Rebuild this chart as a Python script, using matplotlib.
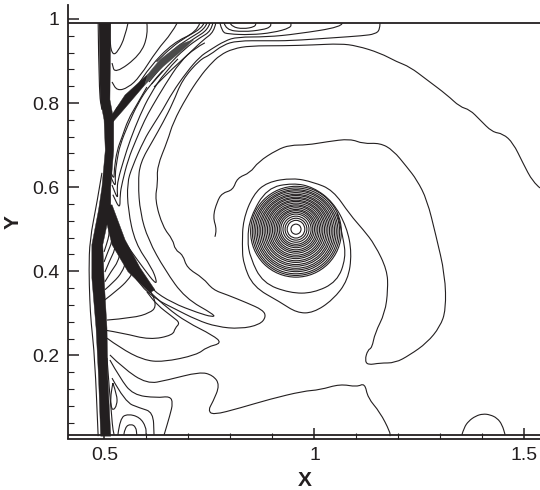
#contour lines of a shock/vortex field
import numpy as np
import matplotlib
matplotlib.use("Agg")
import matplotlib.pyplot as plt
import matplotlib.ticker as tick
from matplotlib.patches import Circle, PathPatch
from matplotlib.path import Path

plt.rcParams['font.family'] = ['Liberation Sans', 'DejaVu Sans']

INK = '#231f20'

#outer contours running from the top wall round to the shock bundle
line_a = [(1.537,.598),(1.520,.612),(1.496,.658),(1.473,.705),(1.449,.727),(1.423,.731),(1.394,.760),(1.370,.784),(1.346,.791),(1.316,.819),(1.268,.855),(1.227,.886),(1.196,.898),(1.156,.919),(1.101,.936),(1.061,.941),(.997,.938),(.925,.936),(.847,.936),(.806,.929),(.775,.914),(.751,.891),(.727,.862),(.696,.815),(.663,.753),(.651,.712),(.625,.648),(.627,.610),(.620,.570),(.639,.505),(.663,.475),(.668,.451),(.687,.439),(.696,.408),(.735,.384),(.758,.356),(.792,.344),(.839,.325),(.877,.308),(.885,.292),(.870,.273),(.823,.263),(.768,.268),(.720,.284),(.663,.313),(.625,.332),(.584,.367),(.556,.415)]
line_c2 = [(1.156,.990),(1.156,.974),(1.144,.964),(1.116,.960),(1.044,.955),(.942,.948),(.887,.948),(.816,.948),(.782,.938),(.751,.914),(.727,.903),(.685,.855),(.663,.800),(.639,.753),(.616,.712),(.585,.658),(.580,.610),(.585,.539),(.604,.475),(.644,.403),(.692,.336),(.763,.296),(.758,.291),(.723,.301),(.661,.325),(.613,.356),(.573,.403),(.549,.439)]
line_c3 = [(1.066,.990),(1.066,.981),(.958,.964),(.887,.957),(.816,.957),(.787,.948),(.751,.926),(.727,.910),(.696,.874),(.661,.824),(.639,.784),(.616,.748),(.594,.712),(.566,.648),(.554,.610),(.556,.546),(.573,.467),(.613,.408),(.625,.375),(.620,.372),(.596,.403),(.561,.451),(.542,.479)]

#bubbles on the top wall
bubble_1 = [(.799,.990),(.804,.981),(.830,.976),(.858,.981),(.861,.990)]
bubble_2 = [(.785,.990),(.789,.974),(.830,.969),(.877,.974),(.896,.981),(.896,.990)]
bubble_3 = [(.775,.990),(.780,.969),(.794,.964),(.847,.962),(.901,.967),(.944,.979),(.944,.990)]

#nested tips under the diagonal shock
nest_1 = [(.739,.943),(.716,.931),(.680,.898),(.644,.843),(.613,.791),(.596,.760),(.575,.712),(.556,.665),(.542,.610),(.537,.582),(.537,.546),(.520,.582)]
nest_2 = [(.675,.905),(.644,.874),(.608,.819),(.585,.772),(.561,.712),(.546,.665),(.532,.617),(.530,.593),(.532,.570),(.518,.605)]
nest_3 = [(.639,.877),(.608,.843),(.580,.800),(.556,.748),(.537,.700),(.530,.665),(.525,.629),(.527,.598),(.513,.629)]
nest_4 = [(.601,.838),(.577,.796),(.556,.760),(.542,.719),(.530,.688),(.523,.641),(.523,.617),(.513,.641)]

#top left corner between the shocks
upper_1 = [(.556,.990),(.549,.957),(.532,.922),(.520,.914),(.513,.938),(.513,.990)]
upper_2 = [(.601,.990),(.604,.962),(.585,.914),(.525,.869),(.518,.895)]
upper_3 = [(.673,.990),(.661,.967),(.625,.926),(.584,.862),(.556,.836),(.530,.829),(.518,.850)]
upper_4 = [(.727,.990),(.720,.969),(.663,.943),(.608,.886),(.577,.838),(.553,.808),(.530,.791),(.525,.777)]
top_fan_1 = [(.744,.990),(.739,.976),(.704,.955),(.668,.931),(.632,.895),(.600,.858)]
top_fan_2 = [(.751,.990),(.746,.974),(.716,.955),(.680,.931),(.642,.893),(.606,.850)]
top_fan_3 = [(.758,.990),(.754,.971),(.727,.955),(.692,.930),(.650,.888),(.612,.845)]
top_fan_4 = [(.765,.990),(.761,.969),(.735,.950),(.704,.920),(.660,.880),(.618,.838)]
top_fan_5 = [(.737,.990),(.732,.978),(.696,.958),(.660,.933),(.624,.898)]

#thin lines left of the vertical shock
outer_1 = [(.485,.990),(.487,.824),(.494,.784)]
outer_2 = [(.494,.634),(.482,.562),(.465,.475),(.463,.403),(.465,.332),(.468,.279),(.477,.194),(.485,.008)]
outer_3 = [(.506,.194),(.518,.035),(.523,.011)]

#lower region
low_a = [(.506,.284),(.568,.289),(.608,.301),(.623,.315),(.616,.344),(.592,.379)]
low_b = [(.501,.260),(.544,.253),(.608,.237),(.663,.248),(.668,.265),(.680,.277),(.663,.291),(.625,.320),(.601,.351)]
low_c = [(.506,.241),(.537,.218),(.592,.189),(.639,.184),(.720,.201),(.744,.220),(.780,.229),(.758,.248),(.696,.279),(.649,.313),(.608,.351)]
low_d = [(.513,.201),(.544,.170),(.601,.132),(.649,.141),(.727,.161),(.758,.153),(.775,.130),(.758,.089),(.747,.070),(.758,.058),(.823,.075),(.894,.096),(.973,.115),(1.013,.118),(1.061,.132),(1.101,.125),(1.120,.134),(1.127,.099),(1.156,.065),(1.180,.018),(1.180,.008)]
low_e = [(.513,.189),(.537,.146),(.568,.106),(.625,.099),(.656,.103),(.663,.087),(.656,.058),(.642,.011)]
low_f = [(.518,.146),(.549,.089),(.584,.075),(.616,.065),(.618,.011)]
low_g = [(.532,.011),(.537,.051),(.556,.061),(.584,.053),(.599,.030),(.599,.011)]
low_h = [(.546,.011),(.549,.030),(.563,.037),(.575,.030),(.577,.011)]
low_loop = [(.520,.134),(.530,.106),(.530,.082),(.520,.068),(.515,.082),(.515,.106),(.520,.134)]

#fan in the triangle between the two lower shocks
fan_1 = [(.501,.332),(.532,.356),(.556,.379),(.568,.398),(.556,.432)]
fan_2 = [(.501,.356),(.523,.375),(.542,.398),(.551,.422),(.542,.451)]
fan_3 = [(.501,.375),(.518,.403),(.532,.422),(.539,.451),(.530,.475)]
fan_4 = [(.501,.398),(.513,.427),(.525,.451),(.527,.475),(.518,.498)]
fan_5 = [(.499,.422),(.508,.446),(.518,.470),(.518,.494),(.513,.517)]
fan_6 = [(.499,.446),(.506,.467),(.511,.486),(.511,.503)]

#big spiral round the vortex
spiral = [(.763,.482),(.768,.498),(.758,.529),(.768,.565),(.780,.586),(.806,.593),(.816,.622),(.847,.634),(.866,.660),(.911,.689),(.942,.700),(.982,.700),(1.030,.708),(1.085,.715),(1.116,.703),(1.156,.705),(1.187,.688),(1.220,.648),(1.244,.617),(1.268,.570),(1.289,.486),(1.311,.391),(1.313,.308),(1.299,.268),(1.268,.230),(1.227,.201),(1.192,.182),(1.156,.182),(1.127,.177),(1.120,.189),(1.127,.213),(1.137,.218),(1.144,.253),(1.168,.301),(1.175,.356),(1.173,.403),(1.144,.463),(1.116,.499),(1.085,.534),(1.044,.593),(.997,.612),(.949,.622),(.887,.612),(.854,.582),(.830,.522),(.828,.463),(.830,.420),(.854,.363),(.918,.327),(.958,.301),(.997,.301),(1.044,.332),(1.080,.379),(1.089,.443),(1.077,.505),(1.044,.565),(.997,.600),(.949,.610),(.887,.598),(.847,.529),(.840,.475),(.847,.432),(.877,.372),(.942,.348),(.997,.348),(1.054,.375),(1.075,.432),(1.068,.481),(1.054,.539)]

bump = [(1.351,.011),(1.356,.028),(1.367,.044),(1.384,.056),(1.401,.061),(1.418,.059),(1.435,.051),(1.447,.035),(1.454,.011)]

#shock bundles, too dense to read line by line so taken as outlines
shock_main = [(.487,.990),(.490,.808),(.499,.760),(.502,.688),(.494,.600),(.486,.546),(.470,.463),(.470,.384),(.480,.265),(.486,.146),(.491,.008),(.515,.008),(.508,.146),(.506,.265),(.499,.384),(.496,.463),(.515,.553),(.515,.600),(.522,.688),(.522,.760),(.513,.808),(.515,.990)]
shock_low = [(.496,.553),(.518,.463),(.556,.399),(.608,.349),(.620,.356),(.585,.408),(.549,.475),(.518,.558)]
shock_diag = [(.508,.741),(.549,.788),(.596,.843),(.603,.868),(.549,.819),(.513,.765)]
shock_diag_top = [(.596,.843),(.639,.886),(.692,.931),(.712,.950),(.680,.940),(.632,.903),(.603,.868)]

#vortex rings
ring_x = 0.956
ring_y = [.494,.494,.494,.495,.495,.495,.496,.496,.497,.497,.498,.498,.498,.499,.499,.499,.500,.500,.500,.500,.500,.500,.500]
ring_r = [.108,.104,.100,.096,.092,.088,.084,.080,.076,.072,.068,.064,.060,.056,.052,.048,.044,.040,.036,.031,.026,.021,.012]

wall_top = 0.990
wall_bottom = 0.0107

contours = [line_a, line_c2, line_c3, bubble_1, bubble_2, bubble_3, nest_1, nest_2, nest_3, nest_4,
            upper_1, upper_2, upper_3, upper_4, top_fan_1, top_fan_2, top_fan_3, top_fan_4, top_fan_5,
            outer_1, outer_2, outer_3, low_a, low_b, low_c, low_d, low_e, low_f, low_g, low_h, low_loop,
            fan_1, fan_2, fan_3, fan_4, fan_5, fan_6, spiral, bump]


def soft_path(points):
    #rounds the corners when drawing, the points themselves stay as read
    pts = np.array(points)
    verts = [pts[0]]
    codes = [Path.MOVETO]
    for i in range(1, len(pts)-1):
        verts.append(pts[i])
        verts.append((pts[i]+pts[i+1])/2)
        codes += [Path.CURVE3, Path.CURVE3]
    verts.append(pts[-1])
    codes.append(Path.LINETO)
    return Path(verts, codes)


fig = plt.figure(figsize=(5.4, 4.9), dpi=100)
ax = fig.add_axes([67.5/540, (490-438.5)/490, 1-67.5/540, (438.5-5)/490])

for c in contours:
    ax.add_patch(PathPatch(soft_path(c), fill=False, edgecolor=INK, lw=0.8))

for shock in [shock_main, shock_low, shock_diag]:
    pts = np.array(shock)
    ax.fill(pts[:,0], pts[:,1], color=INK, lw=0.3)
pts = np.array(shock_diag_top)
ax.fill(pts[:,0], pts[:,1], color='#4a4a4a', lw=0.3)

for r, y in zip(ring_r, ring_y):
    ax.add_patch(Circle((ring_x, y), r, fill=False, edgecolor=INK, lw=0.8))

ax.axhline(wall_top, color=INK, lw=1.3)
ax.axhline(wall_bottom, color=INK, lw=1.3)

ax.set_xlim(0.412, 1.537)
ax.set_ylim(0.0024, 1.033)
ax.spines['top'].set_visible(False)
ax.spines['right'].set_visible(False)
ax.spines['left'].set_linewidth(1.3)
ax.spines['bottom'].set_linewidth(1.3)
ax.spines['left'].set_color(INK)
ax.spines['bottom'].set_color(INK)

ax.xaxis.set_major_locator(tick.FixedLocator([0.5, 1, 1.5]))
ax.xaxis.set_minor_locator(tick.MultipleLocator(0.1))
ax.yaxis.set_major_locator(tick.FixedLocator([0.2, 0.4, 0.6, 0.8, 1]))
ax.yaxis.set_minor_locator(tick.MultipleLocator(0.04))
ax.set_xticklabels(['0.5', '1', '1.5'])
ax.set_yticklabels(['0.2', '0.4', '0.6', '0.8', '1'])
ax.tick_params(which='major', direction='in', length=8, width=1.1, labelsize=14, colors=INK, pad=6)
ax.tick_params(which='minor', direction='in', length=4.5, width=0.8, colors=INK)
ax.set_xlabel('X', fontsize=15, fontweight='bold', color=INK, va='center')
ax.set_ylabel('Y', fontsize=15, fontweight='bold', color=INK, va='center')
ax.xaxis.set_label_coords((305-67.5)/472.5, -(480-438.5)/433.5)
ax.yaxis.set_label_coords(-(67.5-13)/472.5, (438.5-222)/433.5)

fig.savefig('out.png', dpi=100)
plt.close(fig)
